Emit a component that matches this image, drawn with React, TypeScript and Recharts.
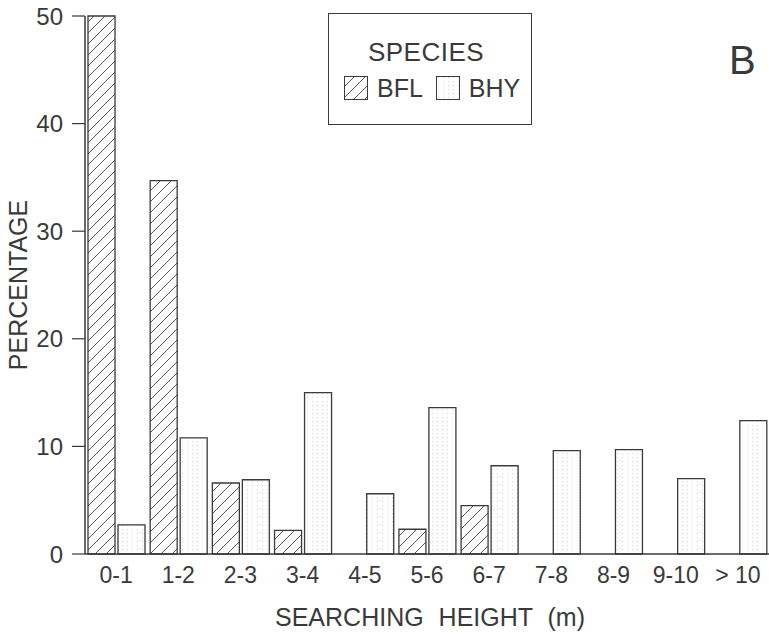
import React from 'react';
import { BarChart, Bar, XAxis, YAxis, Legend } from 'recharts';

// searching height classes (m)
const categories = ['0-1', '1-2', '2-3', '3-4', '4-5', '5-6', '6-7', '7-8', '8-9', '9-10', '> 10'];
const bflValues = [50, 34.7, 6.6, 2.2, 0, 2.3, 4.5, 0, 0, 0, 0];
const bhyValues = [2.7, 10.8, 6.9, 15.0, 5.6, 13.6, 8.2, 9.6, 9.7, 7.0, 12.4];
const yTicks = [0, 10, 20, 30, 40, 50];
const seriesNames = ['BFL', 'BHY'];

const data = categories.map((c, i) => ({ height: c, BFL: bflValues[i], BHY: bhyValues[i] }));

const FONT = '"Liberation Sans", Arial, Helvetica, sans-serif';
const INK = '#3a3a3a';

const Patterns = () => (
  <svg width={0} height={0} style={{ position: 'absolute' }}>
    <defs>
      <pattern id="hatch" patternUnits="userSpaceOnUse" width={11} height={11}>
        <rect width={11} height={11} fill="#fff" />
        <path d="M-1,1 l2,-2 M0,11 l11,-11 M10,12 l2,-2" stroke="#555" strokeWidth={1} />
      </pattern>
      <pattern id="stipple" patternUnits="userSpaceOnUse" width={5} height={4}>
        <rect width={5} height={4} fill="#fff" />
        <rect x={2} y={1} width={1} height={1} fill="#d4d4d4" />
      </pattern>
    </defs>
  </svg>
);

const SpeciesLegend = () => (
  <div
    style={{
      width: '100%',
      height: '100%',
      boxSizing: 'border-box',
      border: `1px solid ${INK}`,
      background: '#fff',
      fontFamily: FONT,
      color: INK,
    }}
  >
    <div style={{ textAlign: 'center', fontSize: 26, marginTop: 24, lineHeight: '28px', paddingRight: 8, letterSpacing: 0.5 }}>
      SPECIES
    </div>
    <div style={{ display: 'flex', alignItems: 'center', marginTop: 8, marginLeft: 15, fontSize: 25 }}>
      {seriesNames.map((name, i) => (
        <div key={name} style={{ display: 'flex', alignItems: 'center', marginRight: 13 }}>
          <svg width={25} height={25} style={{ marginRight: 8 }}>
            <rect
              x={0.5}
              y={0.5}
              width={23}
              height={23}
              fill={i === 0 ? 'url(#hatch)' : 'url(#stipple)'}
              stroke={INK}
              strokeWidth={1}
            />
          </svg>
          <span>{name}</span>
        </div>
      ))}
    </div>
  </div>
);

export default function App() {
  return (
    <div style={{ position: 'absolute', left: 0, top: 0, width: 769, height: 634, background: '#fff' }}>
      <Patterns />
      <BarChart
        width={769}
        height={634}
        data={data}
        margin={{ top: 16, right: 0, bottom: 0, left: 0 }}
        barCategoryGap={3}
        barGap={3}
      >
        <XAxis
          dataKey="height"
          height={80}
          axisLine={{ stroke: INK, strokeWidth: 1.5 }}
          tickLine={false}
          tickSize={0}
          tickMargin={13}
          interval={0}
          tick={{ fill: INK, fontSize: 23, fontFamily: FONT }}
          label={{
            content: ({ viewBox }: any) => (
              <text
                x={viewBox.x + viewBox.width / 2 + 3}
                y={viewBox.y + 72}
                textAnchor="middle"
                fill={INK}
                fontSize={25}
                fontFamily={FONT}
                wordSpacing={8}
              >
                SEARCHING HEIGHT (m)
              </text>
            ),
          }}
        />
        <YAxis
          width={85}
          domain={[0, 50]}
          ticks={yTicks}
          interval={0}
          axisLine={{ stroke: INK, strokeWidth: 1.5 }}
          tickLine={{ stroke: INK, strokeWidth: 1.2 }}
          tickSize={13}
          tickMargin={9}
          tick={{ fill: INK, fontSize: 24, fontFamily: FONT }}
          label={{
            content: ({ viewBox }: any) => {
              const cy = viewBox.y + viewBox.height / 2;
              return (
                <text
                  x={27}
                  y={cy}
                  transform={`rotate(-90 27 ${cy})`}
                  textAnchor="middle"
                  fill={INK}
                  fontSize={25}
                  fontFamily={FONT}
                >
                  PERCENTAGE
                </text>
              );
            },
          }}
        />
        <Legend
          verticalAlign="middle"
          layout="horizontal"
          content={() => <SpeciesLegend />}
          wrapperStyle={{ position: 'absolute', left: 328, top: 13, width: 204, height: 112 }}
        />
        <Bar dataKey="BFL" fill="url(#hatch)" stroke={INK} strokeWidth={1.3} isAnimationActive={false} />
        <Bar dataKey="BHY" fill="url(#stipple)" stroke={INK} strokeWidth={1.3} isAnimationActive={false} />
      </BarChart>
      <div
        style={{
          position: 'absolute',
          left: 729,
          top: 40,
          fontFamily: FONT,
          fontSize: 40,
          color: INK,
          lineHeight: '40px',
        }}
      >
        B
      </div>
    </div>
  );
}
